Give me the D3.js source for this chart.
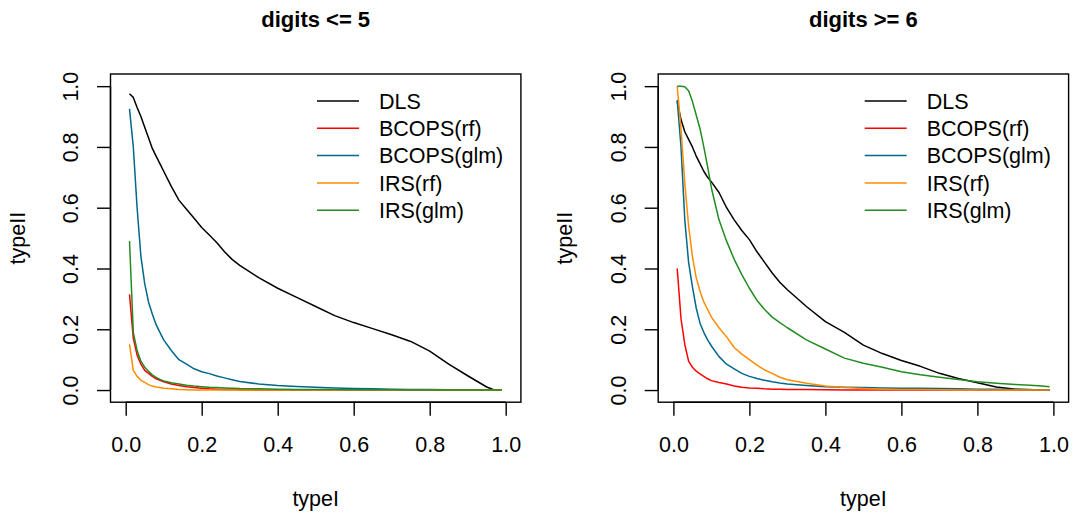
<!DOCTYPE html>
<html><head><meta charset="utf-8">
<script src="https://cdn.jsdelivr.net/npm/d3@7"></script>
<style>body{margin:0;background:#fff}svg{display:block}text{font-family:"Liberation Sans",Arial,Helvetica,sans-serif;fill:#000}</style>
</head><body><svg id="c" width="1079" height="513"></svg>
<script>
const typeI = [0.01,0.02,0.03,0.04,0.05,0.06,0.07,0.08,0.09,0.10,0.12,0.14,0.16,0.18,0.20,0.22,0.24,0.26,0.28,0.30,0.35,0.40,0.45,0.50,0.55,0.60,0.65,0.70,0.75,0.80,0.85,0.90,0.95,0.97,0.99];
const seriesNames = ["DLS","BCOPS(rf)","BCOPS(glm)","IRS(rf)","IRS(glm)"];
const seriesColors = ["#000000","#FF0000","#00688B","#FF8C00","#228B22"];
const panelTitles = ["digits <= 5","digits >= 6"];
const tickValues = [0,0.2,0.4,0.6,0.8,1.0];

// panel 1: digits <= 5
const low_DLS = [.975,.963,.93,.90,.865,.83,.795,.77,.745,.72,.67,.625,.595,.565,.535,.51,.485,.455,.43,.41,.37,.335,.305,.275,.245,.222,.202,.182,.16,.128,.085,.047,.01,0,0];
const low_BCOPSrf = [.315,.17,.115,.085,.065,.055,.045,.037,.032,.027,.02,.015,.011,.008,.006,.004,.003,.002,.0015,.001,0,0,0,0,0,0,0,0,0,0,0,0,0,0,0];
const low_BCOPSglm = [.925,.80,.60,.44,.35,.29,.25,.215,.19,.165,.13,.10,.085,.07,.06,.054,.046,.04,.034,.028,.02,.015,.012,.009,.007,.005,.004,.003,.002,.002,.001,.001,0,0,0];
const low_IRSrf = [.15,.065,.045,.032,.025,.018,.013,.01,.008,.006,.004,.002,.001,.0005,0,0,0,0,0,0,0,0,0,0,0,0,0,0,0,0,0,0,0,0,0];
const low_IRSglm = [.49,.19,.13,.095,.075,.062,.05,.042,.035,.03,.024,.02,.016,.013,.011,.009,.008,.007,.006,.005,.004,.003,.002,.002,.0015,.001,.001,.001,.0005,.0005,0,0,0,0,0];

// panel 2: digits >= 6
const high_DLS = [.95,.89,.85,.825,.80,.77,.745,.72,.70,.685,.65,.60,.56,.525,.495,.455,.42,.385,.355,.33,.275,.225,.19,.148,.12,.097,.078,.055,.038,.024,.01,.003,.001,0,0];
const high_BCOPSrf = [.40,.235,.15,.095,.075,.062,.053,.045,.037,.031,.025,.02,.013,.009,.007,.006,.004,.003,.0025,.002,.0015,.001,.0005,0,0,0,0,0,0,0,0,0,0,0,0];
const high_BCOPSglm = [.955,.80,.56,.42,.34,.27,.22,.19,.165,.145,.11,.085,.07,.055,.045,.038,.032,.027,.023,.02,.015,.011,.009,.008,.007,.006,.0055,.005,.004,.003,.0025,.002,.001,.0005,0];
const high_IRSrf = [1.0,.86,.68,.54,.44,.37,.325,.29,.265,.24,.205,.175,.14,.118,.10,.082,.066,.055,.042,.034,.022,.013,.008,.005,.003,.002,.0015,.001,.0005,0,0,0,0,0,0];
const high_IRSglm = [1.0,1.0,.998,.985,.95,.905,.86,.80,.735,.665,.56,.49,.43,.38,.335,.295,.265,.24,.222,.205,.165,.135,.105,.088,.075,.06,.05,.042,.035,.027,.022,.018,.015,.013,.011];

const panelData = [
  [low_DLS, low_BCOPSrf, low_BCOPSglm, low_IRSrf, low_IRSglm],
  [high_DLS, high_BCOPSrf, high_BCOPSglm, high_IRSrf, high_IRSglm]
];

const svg = d3.select("#c");
const FS = 21.5;
const boxes = [{l:110.5, r:520.9}, {l:658.2, r:1068.6}];
const plotTop = 74, plotBottom = 402.2;

boxes.forEach((b, p) => {
  const x = d3.scaleLinear().domain([-0.04, 1.04]).range([b.l, b.r]);
  const y = d3.scaleLinear().domain([-0.04, 1.04]).range([plotBottom, plotTop]);
  const g = svg.append("g");

  // box
  g.append("rect").attr("x", b.l).attr("y", plotTop).attr("width", b.r - b.l).attr("height", plotBottom - plotTop)
    .attr("fill", "none").attr("stroke", "#000").attr("stroke-width", 1.4);

  // x axis
  const xa = g.append("g").attr("transform", `translate(0,${plotBottom})`)
    .call(d3.axisBottom(x).tickValues(tickValues).tickSize(13.5).tickSizeOuter(0).tickFormat(d3.format(".1f")));
  xa.select(".domain").attr("d", `M${x(0)},0H${x(1)}`).attr("stroke", "#000").attr("stroke-width", 1.4);
  xa.selectAll(".tick line").attr("stroke", "#000").attr("stroke-width", 1.4);
  xa.selectAll(".tick text").attr("y", 0).attr("dy", null).attr("transform", "translate(0,50)")
    .style("font-size", FS + "px").style("font-family", '"Liberation Sans",Arial,sans-serif').attr("fill", "#000");

  // y axis
  const ya = g.append("g").attr("transform", `translate(${b.l},0)`)
    .call(d3.axisLeft(y).tickValues(tickValues).tickSize(13.5).tickSizeOuter(0).tickFormat(d3.format(".1f")));
  ya.select(".domain").attr("d", `M0,${y(0)}V${y(1)}`).attr("stroke", "#000").attr("stroke-width", 1.4);
  ya.selectAll(".tick line").attr("stroke", "#000").attr("stroke-width", 1.4);
  ya.selectAll(".tick text").attr("x", 0).attr("dy", null).attr("text-anchor", "middle")
    .attr("transform", "translate(-32.5,0) rotate(-90)")
    .style("font-size", FS + "px").style("font-family", '"Liberation Sans",Arial,sans-serif').attr("fill", "#000");

  // lines
  const line = d3.line().x(d => x(d[0])).y(d => y(d[1]));
  panelData[p].forEach((vals, i) => {
    g.append("path").datum(typeI.map((t, k) => [t, vals[k]]))
      .attr("d", line).attr("fill", "none").attr("stroke", seriesColors[i])
      .attr("stroke-width", 1.5).attr("stroke-linejoin", "round");
  });

  // titles and labels
  const cx = (b.l + b.r) / 2;
  g.append("text").attr("x", cx).attr("y", 27).attr("text-anchor", "middle")
    .style("font-size", "22px").style("font-weight", "bold").text(panelTitles[p]);
  g.append("text").attr("x", cx).attr("y", 506).attr("text-anchor", "middle")
    .style("font-size", FS + "px").text("typeI");
  g.append("text").attr("transform", `translate(${b.l - 86},${(plotTop + plotBottom) / 2}) rotate(-90)`)
    .attr("text-anchor", "middle").style("font-size", FS + "px").text("typeII");

  // legend
  const lx = b.l + 206.5;
  seriesNames.forEach((n, i) => {
    const ly = 101 + i * 27.3;
    g.append("line").attr("x1", lx).attr("x2", lx + 42).attr("y1", ly).attr("y2", ly)
      .attr("stroke", seriesColors[i]).attr("stroke-width", 1.5);
    g.append("text").attr("x", lx + 62).attr("y", ly + 7.8).style("font-size", FS + "px").text(n);
  });
});
</script></body></html>
